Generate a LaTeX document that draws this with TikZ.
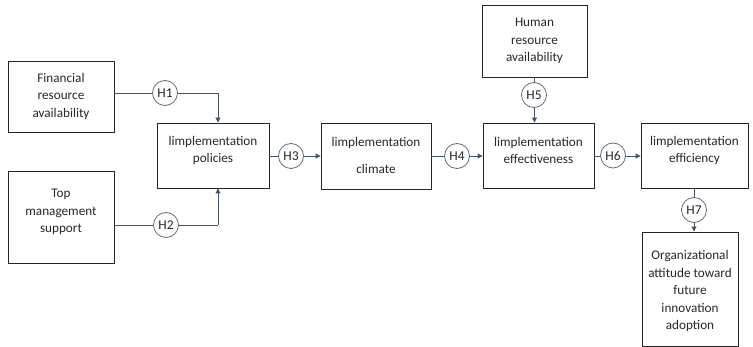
\documentclass[tikz,border=0pt]{standalone}
\usepackage{fontspec}
\setmainfont{Carlito}
\usetikzlibrary{arrows.meta}
\definecolor{linkcol}{RGB}{68,84,106}
\definecolor{ringcol}{RGB}{96,108,122}
\definecolor{txtcol}{RGB}{40,40,40}
\tikzset{
  box/.style={draw=black!85, line width=0.9pt, fill=white, inner sep=0pt},
  boxtext/.style={align=center, text=txtcol, font=\fontsize{13.2}{17.5}\selectfont, inner sep=0pt},
  hyp/.style={circle, draw=ringcol, line width=0.8pt, fill=white, minimum size=25pt, inner sep=0pt,
              text=txtcol, font=\fontsize{13.5}{14}\selectfont},
  link/.style={draw=linkcol, line width=0.9pt},
  flow/.style={link, -{Triangle[length=5pt,width=5pt]}},
}
\begin{document}
\begin{tikzpicture}[x=1pt, y=-1pt]
\useasboundingbox (0,0) rectangle (753,347);

% construct boxes
\node[box, minimum width=106pt, minimum height=71pt] (fin) at (61,96.5) {};
\node[boxtext] (fint) at (61,96) {Financial\\resource\\availability};

\node[box, minimum width=106pt, minimum height=92pt] (top) at (61,217) {};
\node[boxtext] (topt) at (61,212) {Top\\management\\support};

\node[box, minimum width=112pt, minimum height=65pt] (pol) at (213,155.5) {};
\node[boxtext] (polt) at (213,150.5) {limplementation\\policies};

\node[box, minimum width=110pt, minimum height=66pt] (cli) at (376,156) {};
\node[boxtext] (clit) at (376,155.5) {limplementation\\[9pt]climate};

\node[box, minimum width=105pt, minimum height=72pt] (hum) at (534.5,41) {};
\node[boxtext] (humt) at (534.5,41) {Human\\resource\\availability};

\node[box, minimum width=111pt, minimum height=65pt] (eff) at (538.5,155.5) {};
\node[boxtext] (efft) at (538.5,150.5) {limplementation\\effectiveness};

\node[box, minimum width=107pt, minimum height=65pt] (efc) at (694.5,155.5) {};
\node[boxtext] (efct) at (694.5,150.5) {limplementation\\efficiency};

\node[box, minimum width=96pt, minimum height=114pt] (org) at (690,289) {};
\node[boxtext] (orgt) at (690,291) {Organizational\\attitude toward\\future\\innovation\\adoption};

% bends of the two incoming links and the drop below the efficiency box
\coordinate (c1) at (218,93);
\coordinate (c2) at (218,225);
\coordinate (c7) at (694,188);

% connectors
\draw[link] (fin.east |- c1) -- (c1);
\draw[flow] (c1) -- (c1 |- pol.north);
\draw[link] (top.east |- c2) -- (c2);
\draw[flow] (c2) -- (c2 |- pol.south);
\draw[flow] (pol.east |- 0,156) -- (cli.west |- 0,156);
\draw[flow] (cli.east |- 0,156) -- (eff.west |- 0,156);
\draw[flow] (hum.south) -- (hum.south |- eff.north);
\draw[flow] (eff.east |- 0,156) -- (efc.west |- 0,156);
\draw[flow] (c7) -- (c7 |- org.north);

% hypothesis markers
\node[hyp] (h1) at (165,93) {H1};
\node[hyp] (h2) at (166,225) {H2};
\node[hyp] (h3) at (291,156) {H3};
\node[hyp] (h4) at (457,156) {H4};
\node[hyp] (h5) at (534,95) {H5};
\node[hyp] (h6) at (613,155.5) {H6};
\node[hyp] (h7) at (694,210) {H7};
\end{tikzpicture}
\end{document}
